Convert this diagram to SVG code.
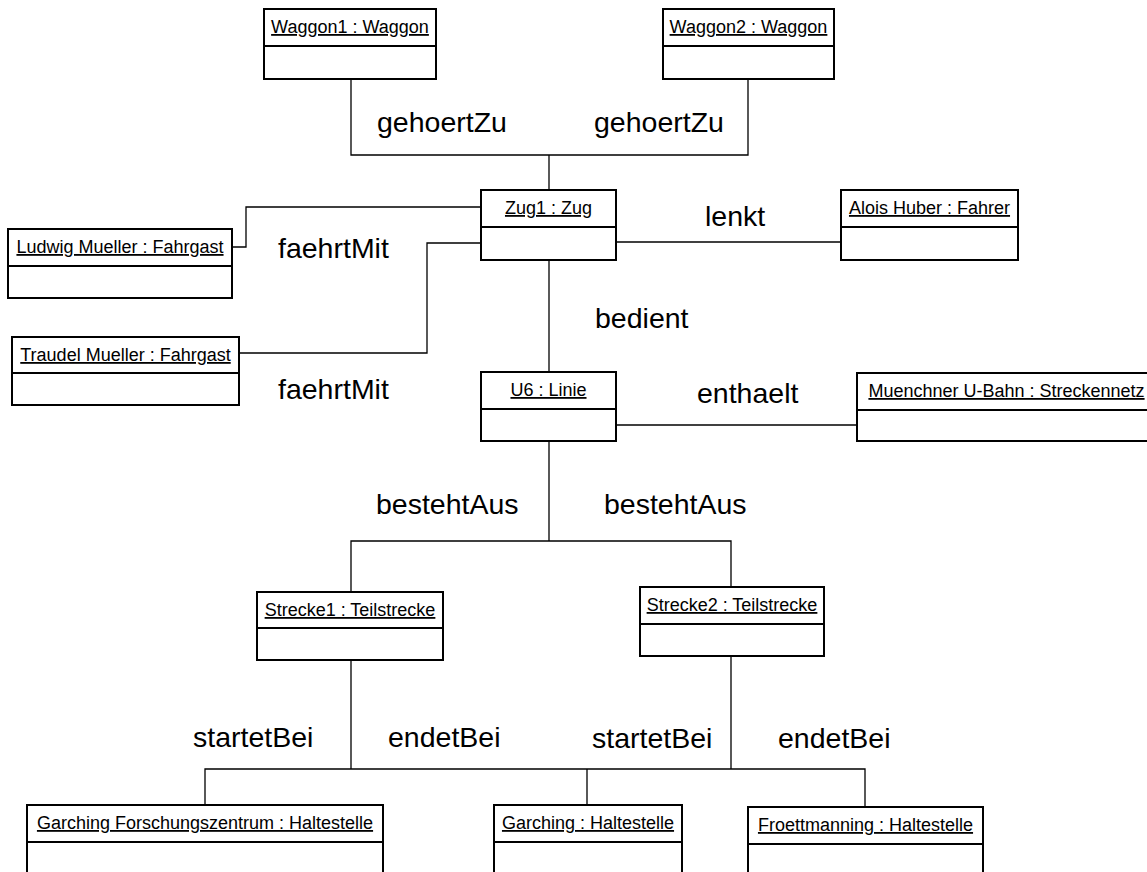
<svg xmlns="http://www.w3.org/2000/svg" width="1147" height="872" viewBox="0 0 1147 872">
<style>
.box{fill:#fff;stroke:#000;stroke-width:2}
.div{stroke:#000;stroke-width:2}
.hdr{font-family:"Liberation Sans",Arial,sans-serif;font-size:18px;fill:#000;text-anchor:middle;text-decoration:underline}
.lbl{font-family:"Liberation Sans",Arial,sans-serif;font-size:28.5px;fill:#000}
.con{fill:none;stroke:#000;stroke-width:1.3}
</style>
<rect width="1147" height="872" fill="#fff"/>
<g id="connectors">
<path class="con" d="M351 79 V155 H748 V79"/>
<path class="con" d="M549 155 V190"/>
<path class="con" d="M232 247 H246 V207 H481"/>
<path class="con" d="M239 353 H427 V243 H481"/>
<path class="con" d="M616 242 H841"/>
<path class="con" d="M549 260 V372"/>
<path class="con" d="M616 425 H857"/>
<path class="con" d="M549 441 V541 M351 592 V541 H731 V587"/>
<path class="con" d="M351 660 V769 M731 656 V769 M205 805 V769 H865 V807 M587 769 V805"/>
<text class="lbl" x="377" y="132">gehoertZu</text>
<text class="lbl" x="594" y="132">gehoertZu</text>
<text class="lbl" x="278" y="258">faehrtMit</text>
<text class="lbl" x="278" y="399">faehrtMit</text>
<text class="lbl" x="705" y="226">lenkt</text>
<text class="lbl" x="595" y="328">bedient</text>
<text class="lbl" x="697" y="403">enthaelt</text>
<text class="lbl" x="376" y="514">bestehtAus</text>
<text class="lbl" x="604" y="514">bestehtAus</text>
<text class="lbl" x="193" y="747">startetBei</text>
<text class="lbl" x="388" y="747">endetBei</text>
<text class="lbl" x="592" y="748">startetBei</text>
<text class="lbl" x="778" y="748">endetBei</text>
</g>
<g id="waggon1"><rect class="box" x="264" y="9" width="172" height="70"/><line class="div" x1="264" y1="46" x2="436" y2="46"/><text class="hdr" x="350" y="33">Waggon1 : Waggon</text></g>
<g id="waggon2"><rect class="box" x="663" y="9" width="171" height="70"/><line class="div" x1="663" y1="46" x2="834" y2="46"/><text class="hdr" x="748.5" y="33">Waggon2 : Waggon</text></g>
<g id="zug1"><rect class="box" x="481" y="190" width="135" height="70"/><line class="div" x1="481" y1="227" x2="616" y2="227"/><text class="hdr" x="548.5" y="214">Zug1 : Zug</text></g>
<g id="ludwig"><rect class="box" x="8" y="229" width="224" height="69"/><line class="div" x1="8" y1="266" x2="232" y2="266"/><text class="hdr" x="120" y="253">Ludwig Mueller : Fahrgast</text></g>
<g id="traudel"><rect class="box" x="12" y="337" width="227" height="68"/><line class="div" x1="12" y1="373" x2="239" y2="373"/><text class="hdr" x="125.5" y="361">Traudel Mueller : Fahrgast</text></g>
<g id="alois"><rect class="box" x="841" y="190" width="177" height="70"/><line class="div" x1="841" y1="227" x2="1018" y2="227"/><text class="hdr" x="929.5" y="214">Alois Huber : Fahrer</text></g>
<g id="u6"><rect class="box" x="481" y="372" width="135" height="69"/><line class="div" x1="481" y1="409" x2="616" y2="409"/><text class="hdr" x="548.5" y="396">U6 : Linie</text></g>
<g id="muenchner"><rect class="box" x="857" y="373" width="299" height="68"/><line class="div" x1="857" y1="410" x2="1156" y2="410"/><text class="hdr" x="1006.5" y="397">Muenchner U-Bahn : Streckennetz</text></g>
<g id="strecke1"><rect class="box" x="257" y="592" width="186" height="68"/><line class="div" x1="257" y1="628" x2="443" y2="628"/><text class="hdr" x="350" y="616">Strecke1 : Teilstrecke</text></g>
<g id="strecke2"><rect class="box" x="640" y="587" width="184" height="69"/><line class="div" x1="640" y1="624" x2="824" y2="624"/><text class="hdr" x="732" y="611">Strecke2 : Teilstrecke</text></g>
<g id="garchingFZ"><rect class="box" x="27" y="805" width="356" height="80"/><line class="div" x1="27" y1="842" x2="383" y2="842"/><text class="hdr" x="205" y="829">Garching Forschungszentrum : Haltestelle</text></g>
<g id="garching"><rect class="box" x="494" y="805" width="188" height="80"/><line class="div" x1="494" y1="842" x2="682" y2="842"/><text class="hdr" x="588" y="829">Garching : Haltestelle</text></g>
<g id="froettmanning"><rect class="box" x="748" y="807" width="235" height="80"/><line class="div" x1="748" y1="844" x2="983" y2="844"/><text class="hdr" x="865.5" y="831">Froettmanning : Haltestelle</text></g>
</svg>
